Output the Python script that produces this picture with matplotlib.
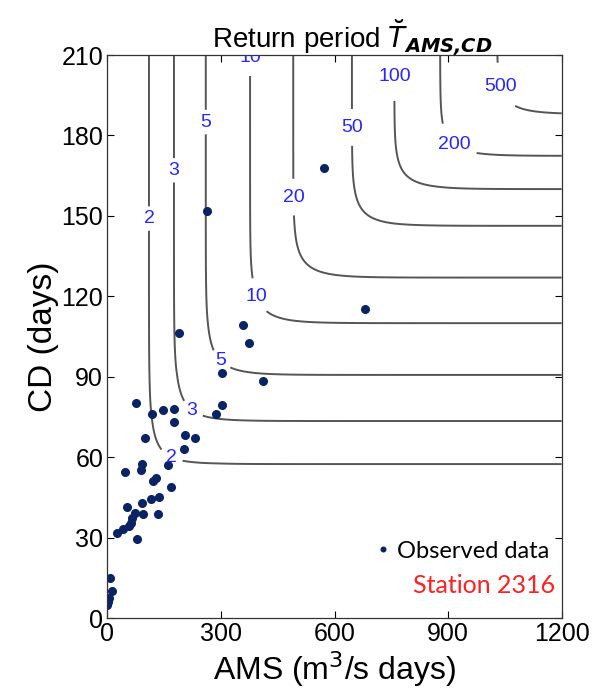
import numpy as np
import matplotlib
matplotlib.use("Agg")
import matplotlib.pyplot as plt

# return periods of the contour lines and where each one levels off
ret_periods = [2, 3, 5, 10, 20, 50, 100, 200, 500]
ams_asym = [110, 176, 260, 377, 491, 646, 758, 879, 1029]
cd_asym = [57.5, 73.5, 90.7, 110, 127, 146.3, 160, 172.4, 188]
theta = 3.0  # Gumbel copula parameter

# observed data (AMS, CD)
obs_ams = [573, 262, 680, 190, 359, 375, 304, 410, 302, 287, 76, 119, 148, 176,
           176, 99, 205, 231, 202, 161, 47, 92, 90, 129, 120, 169, 136, 115, 92,
           53, 72, 95, 133, 66, 62, 58, 41, 25, 79, 7, 12, 4.5, 2, 0]
obs_cd = [167.7, 151.8, 115.3, 106.4, 109.3, 102.5, 91.5, 88.5, 79.3, 76.1, 80.1,
          76.1, 77.5, 78.1, 73.2, 67.3, 68.4, 67.1, 63.2, 57.2, 54.3, 57.5, 55.2,
          52.1, 51, 49, 45.1, 44.3, 43, 41.3, 39.1, 38.8, 38.8, 37.2, 35.3, 34.3,
          33.2, 31.6, 29.4, 15, 10.2, 7.3, 6, 4.8]

# where the contour labels sit
label_pos = [(105, 149), (168, 60), (176, 167), (226, 78), (258, 185), (298, 96),
             (382, 209), (393, 120), (494, 157), (646, 183), (760, 202),
             (918, 177), (1037, 198)]


def marginal_T(z, q):
    zz = np.concatenate([[0.0], q])
    lt = np.log(np.concatenate([[1.0], ret_periods]))
    slope = (lt[-1] - lt[-2]) / (zz[-1] - zz[-2])
    out = np.interp(z, zz, lt)
    out = np.where(z > zz[-1], lt[-1] + slope * (z - zz[-1]), out)
    return np.exp(out)


xg = np.linspace(0, 1200, 700)
yg = np.linspace(0, 210, 500)
X, Y = np.meshgrid(xg, yg)
u = np.clip(1 - 1 / marginal_T(X, ams_asym), 1e-12, 1 - 1e-12)
v = np.clip(1 - 1 / marginal_T(Y, cd_asym), 1e-12, 1 - 1e-12)
C = np.exp(-((-np.log(u)) ** theta + (-np.log(v)) ** theta) ** (1 / theta))
T_or = 1 / (1 - C)

fig = plt.figure(figsize=(6.06, 7.0), dpi=100)
ax = fig.add_axes([0.1771, 0.1171, 0.7498, 0.8043])

cs = ax.contour(X, Y, T_or, levels=ret_periods, colors="#555555", linewidths=1.4)
labels = ax.clabel(cs, manual=label_pos, inline=True, fmt="%d", fontsize=14,
                   colors="#2626ff", inline_spacing=6)
for t in labels:
    t.set_family("Liberation Sans")
    t.set_rotation(0)
    t.set_clip_on(True)

ax.plot(obs_ams, obs_cd, "o", color="#0a2365", markersize=5.5, ls="none",
        label="Observed data")

ax.set_xlim(0, 1200)
ax.set_ylim(0, 210)
ax.set_xticks([0, 300, 600, 900, 1200])
ax.set_yticks([0, 30, 60, 90, 120, 150, 180, 210])
ax.tick_params(direction="in", top=True, right=True, length=5, width=0.8,
               labelsize=18, pad=3)
for lab in ax.get_xticklabels() + ax.get_yticklabels():
    lab.set_family("Liberation Sans")
for s in ax.spines.values():
    s.set_linewidth(0.9)
    s.set_color("#333333")

ax.set_xlabel(r"AMS (m$^3$/s days)", fontsize=23, family="Liberation Sans", labelpad=2)
ax.set_ylabel("CD (days)", fontsize=24, family="Liberation Sans", labelpad=2)
ax.set_title(r"Return period $\breve{T}_{\mathbfit{AMS{,}CD}}$", fontsize=20,
             family="Liberation Sans", pad=5, x=0.54)

leg = ax.legend(loc="center right", bbox_to_anchor=(1.02, 0.119), frameon=False,
                prop={"family": "Lato", "size": 17}, markerscale=0.6,
                handletextpad=0.1, handlelength=1.0)
ax.text(0.985, 0.057, "Station 2316", transform=ax.transAxes, color="#ff2020",
        fontsize=18, family="Lato", ha="right", va="center")

fig.savefig("out.png", dpi=100)
